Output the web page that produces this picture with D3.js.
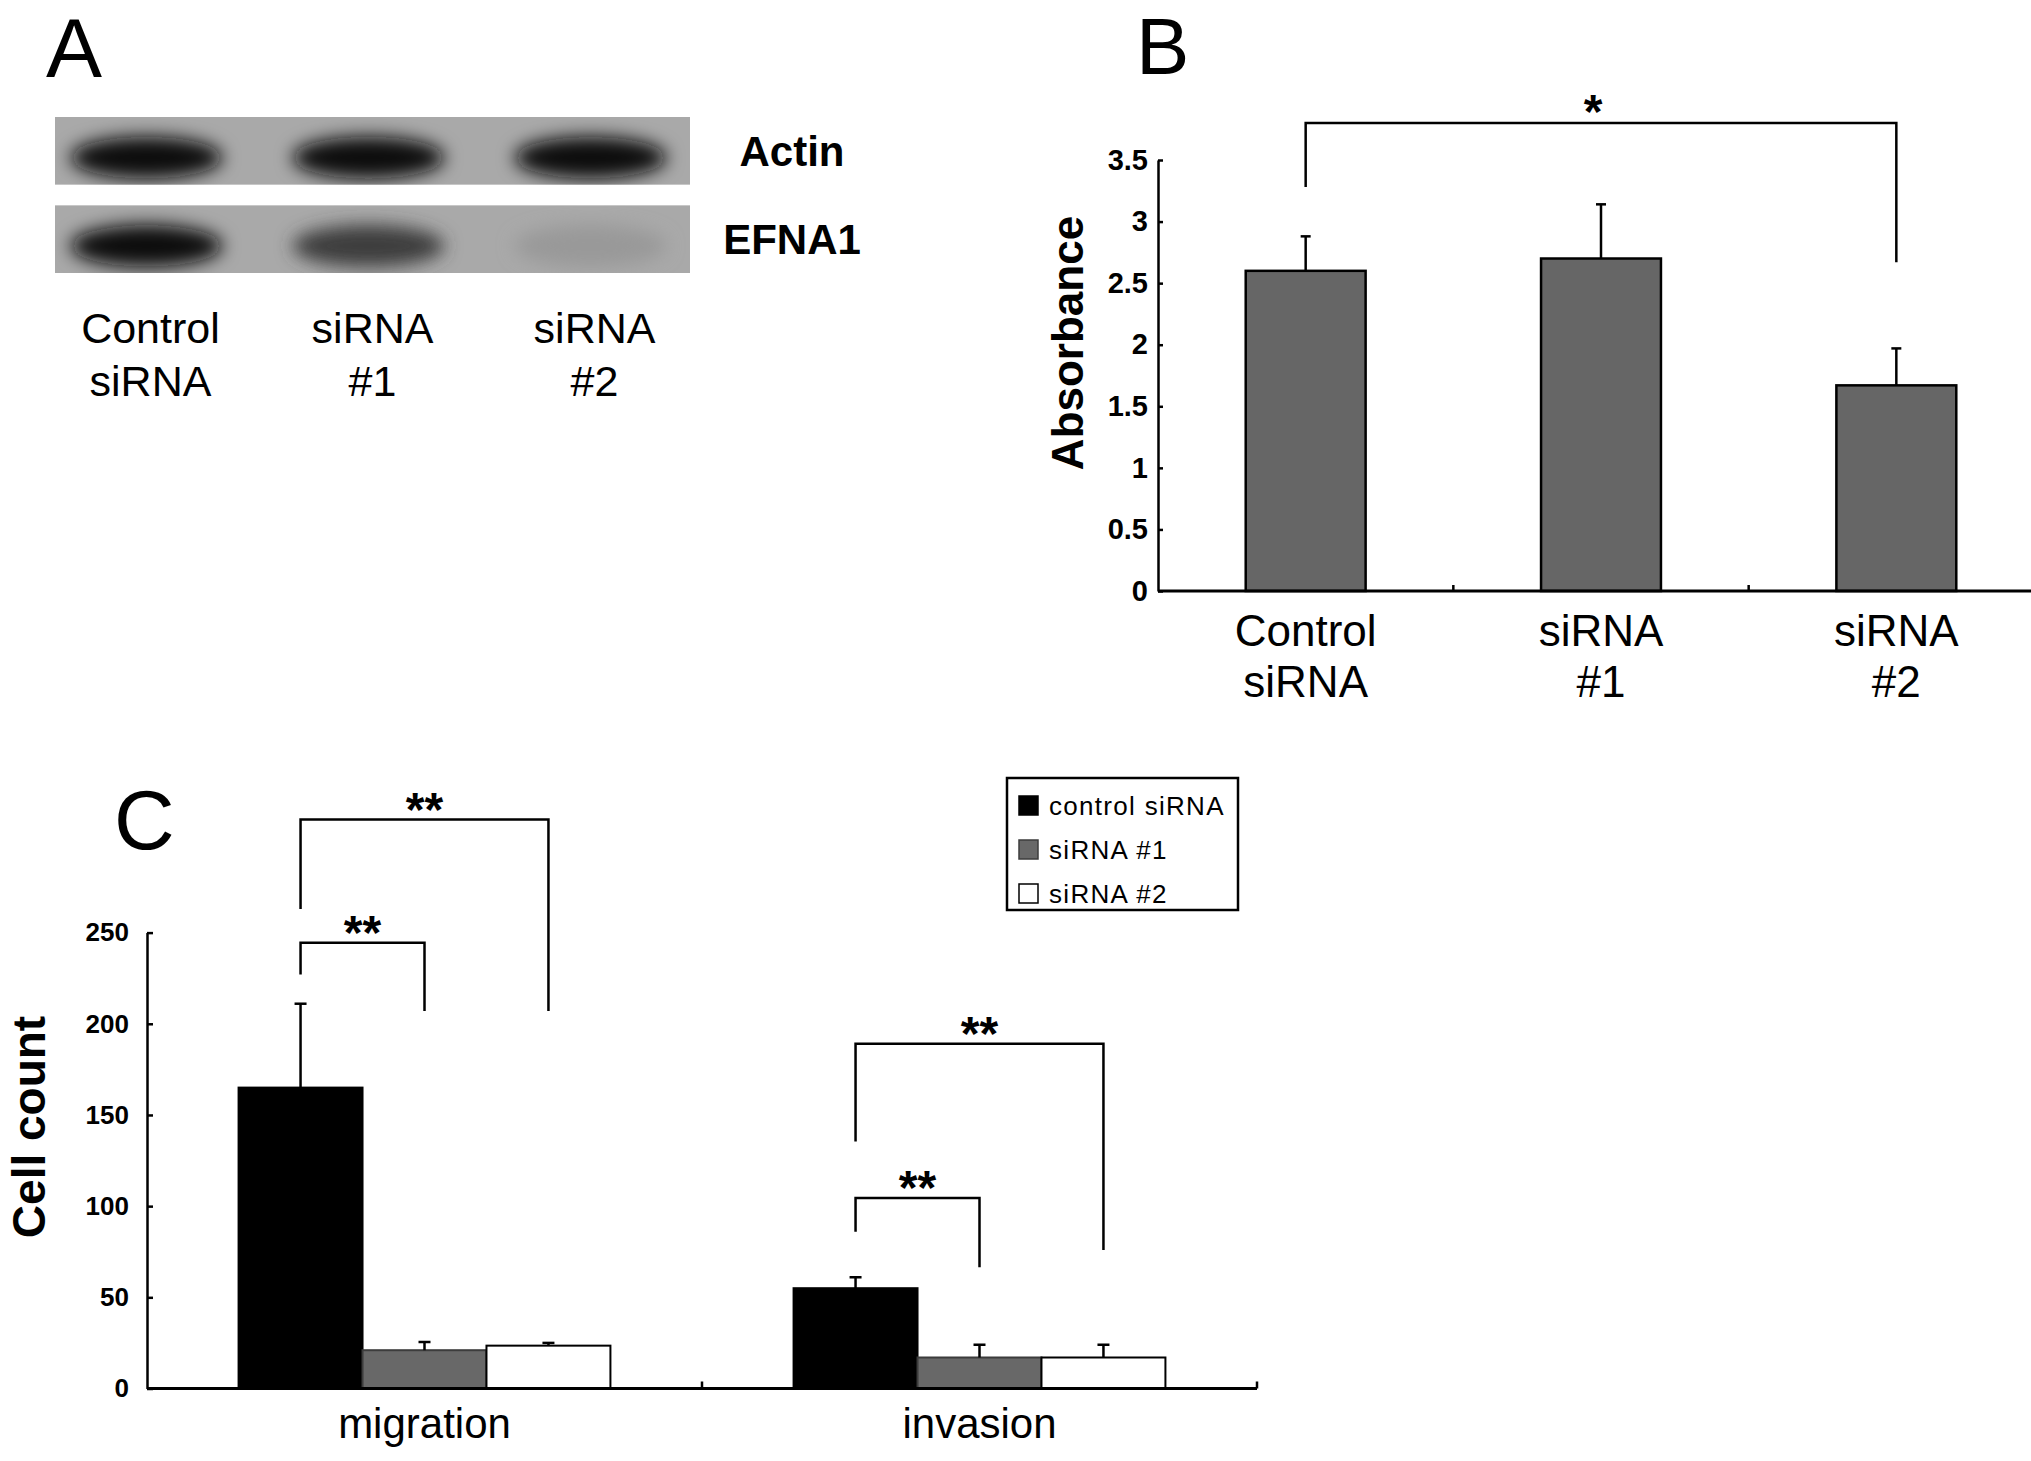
<!DOCTYPE html>
<html>
<head>
<meta charset="utf-8">
<script src="https://cdn.jsdelivr.net/npm/d3@7"></script>
<style>
  body { margin: 0; background: #fff; }
  text { font-family: "Liberation Sans", Arial, sans-serif; fill: #000; }
</style>
</head>
<body>
<script>
// ---- data ----
var laneNames = ["Control siRNA", "siRNA #1", "siRNA #2"];
var laneLabels = [["Control", "siRNA"], ["siRNA", "#1"], ["siRNA", "#2"]];
var blotRows = ["Actin", "EFNA1"];
var actinDensity = [0.97, 0.95, 0.98];
var efna1Density = [0.98, 0.66, 0.1];

var absCategories = ["Control siRNA", "siRNA #1", "siRNA #2"];
var absLabels = [["Control", "siRNA"], ["siRNA", "#1"], ["siRNA", "#2"]];
var absMeans = [2.6, 2.7, 1.67];
var absErrors = [0.28, 0.44, 0.3];
var absTicks = [0, 0.5, 1, 1.5, 2, 2.5, 3, 3.5];
var absBrackets = [
  {from: 0, to: 2, level: 3.8, leftEnd: 3.28, rightEnd: 2.67, mark: "*"}
];

var assayGroups = ["migration", "invasion"];
var seriesNames = ["control siRNA", "siRNA #1", "siRNA #2"];
var migrationMeans = [165, 21, 23.5];
var migrationErrors = [46, 4.5, 1.5];
var invasionMeans = [55, 17, 17];
var invasionErrors = [6, 7, 7];
var countTicks = [0, 50, 100, 150, 200, 250];
var countBrackets = [
  {group: "migration", from: 0, to: 2, level: 312, leftEnd: 263, rightEnd: 207, mark: "**"},
  {group: "migration", from: 0, to: 1, level: 244.5, leftEnd: 227, rightEnd: 207, mark: "**"},
  {group: "invasion", from: 0, to: 2, level: 189, leftEnd: 135.5, rightEnd: 76, mark: "**"},
  {group: "invasion", from: 0, to: 1, level: 104.5, leftEnd: 86, rightEnd: 66.5, mark: "**"}
];

var seriesFill = ["#000000", "#686868", "#ffffff"];
var seriesStroke = ["#000000", "#3c3c3c", "#000000"];

var W = 2031, H = 1461;
var svg = d3.select("body").append("svg")
  .attr("width", W)
  .attr("height", H);
svg.append("rect").attr("width", W).attr("height", H).attr("fill", "#fff");

var defs = svg.append("defs");
defs.append("filter").attr("id", "blur")
  .attr("x", "-50%").attr("y", "-80%").attr("width", "200%").attr("height", "260%")
  .append("feGaussianBlur").attr("stdDeviation", 9);

// panel letters
svg.append("text").attr("x", 46).attr("y", 77).attr("font-size", 84).text("A");
svg.append("text").attr("x", 1136).attr("y", 74).attr("font-size", 80).text("B");
svg.append("text").attr("x", 114).attr("y", 849).attr("font-size", 84).text("C");

// ================= A: western blot =================
var lane = d3.scalePoint().domain(laneNames).range([55, 690]).padding(0.43);
var rowY = d3.scaleBand().domain(blotRows).range([117, 273]).paddingInner(0.23);
var densities = {"Actin": actinDensity, "EFNA1": efna1Density};
var bandShade = d3.interpolateRgb("#a9a9a9", "#050505");

blotRows.forEach(function(row, r) {
  var clipId = "clip" + r;
  defs.append("clipPath").attr("id", clipId)
    .append("rect")
    .attr("x", 55).attr("y", rowY(row))
    .attr("width", 635).attr("height", rowY.bandwidth());

  var g = svg.append("g").attr("clip-path", "url(#" + clipId + ")");
  g.append("rect")
    .attr("x", 55).attr("y", rowY(row))
    .attr("width", 635).attr("height", rowY.bandwidth())
    .attr("fill", "#a9a9a9");

  g.selectAll("ellipse")
    .data(densities[row])
    .enter()
    .append("ellipse")
    .attr("cx", function(d, i) { return lane(laneNames[i]) - 4; })
    .attr("cy", rowY(row) + rowY.bandwidth() * 0.6)
    .attr("rx", 76)
    .attr("ry", 21)
    .attr("fill", function(d) { return bandShade(d); })
    .attr("filter", "url(#blur)");

  svg.append("text")
    .attr("x", 792)
    .attr("y", rowY(row) + rowY.bandwidth() / 2 + 15)
    .attr("text-anchor", "middle")
    .attr("font-size", 42)
    .attr("font-weight", "bold")
    .text(row);
});

svg.selectAll("text.lane")
  .data(laneLabels)
  .enter()
  .append("text")
  .attr("class", "lane")
  .attr("text-anchor", "middle")
  .attr("font-size", 43)
  .each(function(d, i) {
    var t = d3.select(this);
    d.forEach(function(line, k) {
      t.append("tspan")
        .attr("x", lane(laneNames[i]))
        .attr("y", 343 + k * 53)
        .text(line);
    });
  });

// ================= B: absorbance =================
var bx = d3.scaleBand().domain(absCategories).range([1158, 2044])
  .paddingInner(0.594).paddingOuter(0.297);
var by = d3.scaleLinear().domain([0, 3.5]).range([591, 160]);
var bCenter = function(i) { return bx(absCategories[i]) + bx.bandwidth() / 2; };

svg.selectAll("rect.absbar")
  .data(absMeans)
  .enter()
  .append("rect")
  .attr("class", "absbar")
  .attr("x", function(d, i) { return bx(absCategories[i]); })
  .attr("y", function(d) { return by(d); })
  .attr("width", bx.bandwidth())
  .attr("height", function(d) { return by(0) - by(d); })
  .attr("fill", "#666666")
  .attr("stroke", "#000")
  .attr("stroke-width", 2.5);

var absErr = svg.append("g").attr("stroke", "#000").attr("stroke-width", 2.5);
absMeans.forEach(function(m, i) {
  var top = by(m + absErrors[i]);
  absErr.append("line").attr("x1", bCenter(i)).attr("x2", bCenter(i))
    .attr("y1", by(m)).attr("y2", top);
  absErr.append("line").attr("x1", bCenter(i) - 5).attr("x2", bCenter(i) + 5)
    .attr("y1", top).attr("y2", top);
});

var bAxis = svg.append("g")
  .attr("transform", "translate(1158,0)")
  .call(d3.axisLeft(by).tickValues(absTicks).tickFormat(d3.format(""))
    .tickSizeInner(-5).tickSizeOuter(0).tickPadding(10));
bAxis.selectAll("path, line").attr("stroke", "#000").attr("stroke-width", 2.5);
bAxis.selectAll("text").attr("font-size", 29).attr("font-weight", "bold")
  .attr("font-family", "'Liberation Sans', Arial, sans-serif");

svg.append("line")
  .attr("x1", 1158).attr("x2", 2044)
  .attr("y1", by(0)).attr("y2", by(0))
  .attr("stroke", "#000").attr("stroke-width", 3);
svg.selectAll("line.bsep")
  .data(absCategories.slice(1))
  .enter()
  .append("line")
  .attr("class", "bsep")
  .attr("x1", function(c) { return bx(c) - bx.step() * bx.paddingInner() / 2; })
  .attr("x2", function(c) { return bx(c) - bx.step() * bx.paddingInner() / 2; })
  .attr("y1", by(0)).attr("y2", by(0) - 6)
  .attr("stroke", "#000").attr("stroke-width", 2.5);

svg.selectAll("text.abscat")
  .data(absLabels)
  .enter()
  .append("text")
  .attr("class", "abscat")
  .attr("text-anchor", "middle")
  .attr("font-size", 44)
  .each(function(d, i) {
    var t = d3.select(this);
    d.forEach(function(line, k) {
      t.append("tspan").attr("x", bCenter(i)).attr("y", 646 + k * 51).text(line);
    });
  });

svg.append("text")
  .attr("transform", "translate(1083,343) rotate(-90)")
  .attr("text-anchor", "middle")
  .attr("font-size", 44)
  .attr("font-weight", "bold")
  .text("Absorbance");

absBrackets.forEach(function(b) {
  svg.append("path")
    .attr("d", "M" + bCenter(b.from) + "," + by(b.leftEnd) +
               "V" + by(b.level) + "H" + bCenter(b.to) + "V" + by(b.rightEnd))
    .attr("fill", "none").attr("stroke", "#000").attr("stroke-width", 2.5);
  svg.append("text")
    .attr("x", (bCenter(b.from) + bCenter(b.to)) / 2 - 8)
    .attr("y", by(b.level) + 5)
    .attr("text-anchor", "middle")
    .attr("font-size", 48).attr("font-weight", "bold")
    .text(b.mark);
});

// ================= C: cell count =================
var countData = [
  {group: "migration", means: migrationMeans, errors: migrationErrors},
  {group: "invasion", means: invasionMeans, errors: invasionErrors}
];
var cx0 = d3.scaleBand().domain(assayGroups).range([147, 1257])
  .paddingInner(0.33).paddingOuter(0.165);
var cx1 = d3.scaleBand().domain(seriesNames).range([0, cx0.bandwidth()]);
var cy = d3.scaleLinear().domain([0, 250]).range([1388.5, 932.6]);
var cCenter = function(g, i) { return cx0(g) + cx1(seriesNames[i]) + cx1.bandwidth() / 2; };

var groups = svg.selectAll("g.assay")
  .data(countData)
  .enter()
  .append("g")
  .attr("class", "assay")
  .attr("transform", function(d) { return "translate(" + cx0(d.group) + ",0)"; });

groups.selectAll("rect")
  .data(function(d) { return d.means; })
  .enter()
  .append("rect")
  .attr("x", function(d, i) { return cx1(seriesNames[i]); })
  .attr("y", function(d) { return cy(d); })
  .attr("width", cx1.bandwidth())
  .attr("height", function(d) { return cy(0) - cy(d); })
  .attr("fill", function(d, i) { return seriesFill[i]; })
  .attr("stroke", function(d, i) { return seriesStroke[i]; })
  .attr("stroke-width", 2);

var cErr = svg.append("g").attr("stroke", "#000").attr("stroke-width", 2.5);
countData.forEach(function(d) {
  d.means.forEach(function(m, i) {
    var xc = cCenter(d.group, i), top = cy(m + d.errors[i]);
    cErr.append("line").attr("x1", xc).attr("x2", xc).attr("y1", cy(m)).attr("y2", top);
    cErr.append("line").attr("x1", xc - 6).attr("x2", xc + 6).attr("y1", top).attr("y2", top);
  });
});

var cAxis = svg.append("g")
  .attr("transform", "translate(147,0)")
  .call(d3.axisLeft(cy).tickValues(countTicks)
    .tickSizeInner(-6).tickSizeOuter(0).tickPadding(18));
cAxis.selectAll("path, line").attr("stroke", "#000").attr("stroke-width", 2.5);
cAxis.selectAll("text").attr("font-size", 26).attr("font-weight", "bold")
  .attr("font-family", "'Liberation Sans', Arial, sans-serif");

svg.append("line")
  .attr("x1", 147).attr("x2", 1257)
  .attr("y1", cy(0)).attr("y2", cy(0))
  .attr("stroke", "#000").attr("stroke-width", 3);
svg.selectAll("line.csep")
  .data(assayGroups)
  .enter()
  .append("line")
  .attr("class", "csep")
  .attr("x1", function(g) { return cx0(g) + cx0.bandwidth() + cx0.step() * cx0.paddingInner() / 2; })
  .attr("x2", function(g) { return cx0(g) + cx0.bandwidth() + cx0.step() * cx0.paddingInner() / 2; })
  .attr("y1", cy(0)).attr("y2", cy(0) - 7)
  .attr("stroke", "#000").attr("stroke-width", 2.5);

svg.selectAll("text.assaylabel")
  .data(assayGroups)
  .enter()
  .append("text")
  .attr("class", "assaylabel")
  .attr("x", function(g) { return cx0(g) + cx0.bandwidth() / 2; })
  .attr("y", 1438)
  .attr("text-anchor", "middle")
  .attr("font-size", 42)
  .text(function(g) { return g; });

svg.append("text")
  .attr("transform", "translate(45,1127) rotate(-90)")
  .attr("text-anchor", "middle")
  .attr("font-size", 46)
  .attr("font-weight", "bold")
  .text("Cell count");

countBrackets.forEach(function(b) {
  var x1 = cCenter(b.group, b.from), x2 = cCenter(b.group, b.to);
  svg.append("path")
    .attr("d", "M" + x1 + "," + cy(b.leftEnd) + "V" + cy(b.level) + "H" + x2 + "V" + cy(b.rightEnd))
    .attr("fill", "none").attr("stroke", "#000").attr("stroke-width", 2.5);
  svg.append("text")
    .attr("x", (x1 + x2) / 2)
    .attr("y", cy(b.level) + 6)
    .attr("text-anchor", "middle")
    .attr("font-size", 48).attr("font-weight", "bold")
    .text(b.mark);
});

// legend
var legend = svg.append("g").attr("transform", "translate(1007,778)");
legend.append("rect")
  .attr("width", 231).attr("height", 132)
  .attr("fill", "#fff").attr("stroke", "#000").attr("stroke-width", 2.5);
var entries = legend.selectAll("g.entry")
  .data(seriesNames)
  .enter()
  .append("g")
  .attr("class", "entry")
  .attr("transform", function(d, i) { return "translate(12," + (18 + i * 44) + ")"; });
entries.append("rect")
  .attr("width", 19).attr("height", 19)
  .attr("fill", function(d, i) { return seriesFill[i]; })
  .attr("stroke", function(d, i) { return seriesStroke[i]; })
  .attr("stroke-width", 1.5);
entries.append("text")
  .attr("x", 30).attr("y", 19)
  .attr("font-size", 26)
  .attr("letter-spacing", 1.3)
  .text(function(d) { return d; });
</script>
</body>
</html>
